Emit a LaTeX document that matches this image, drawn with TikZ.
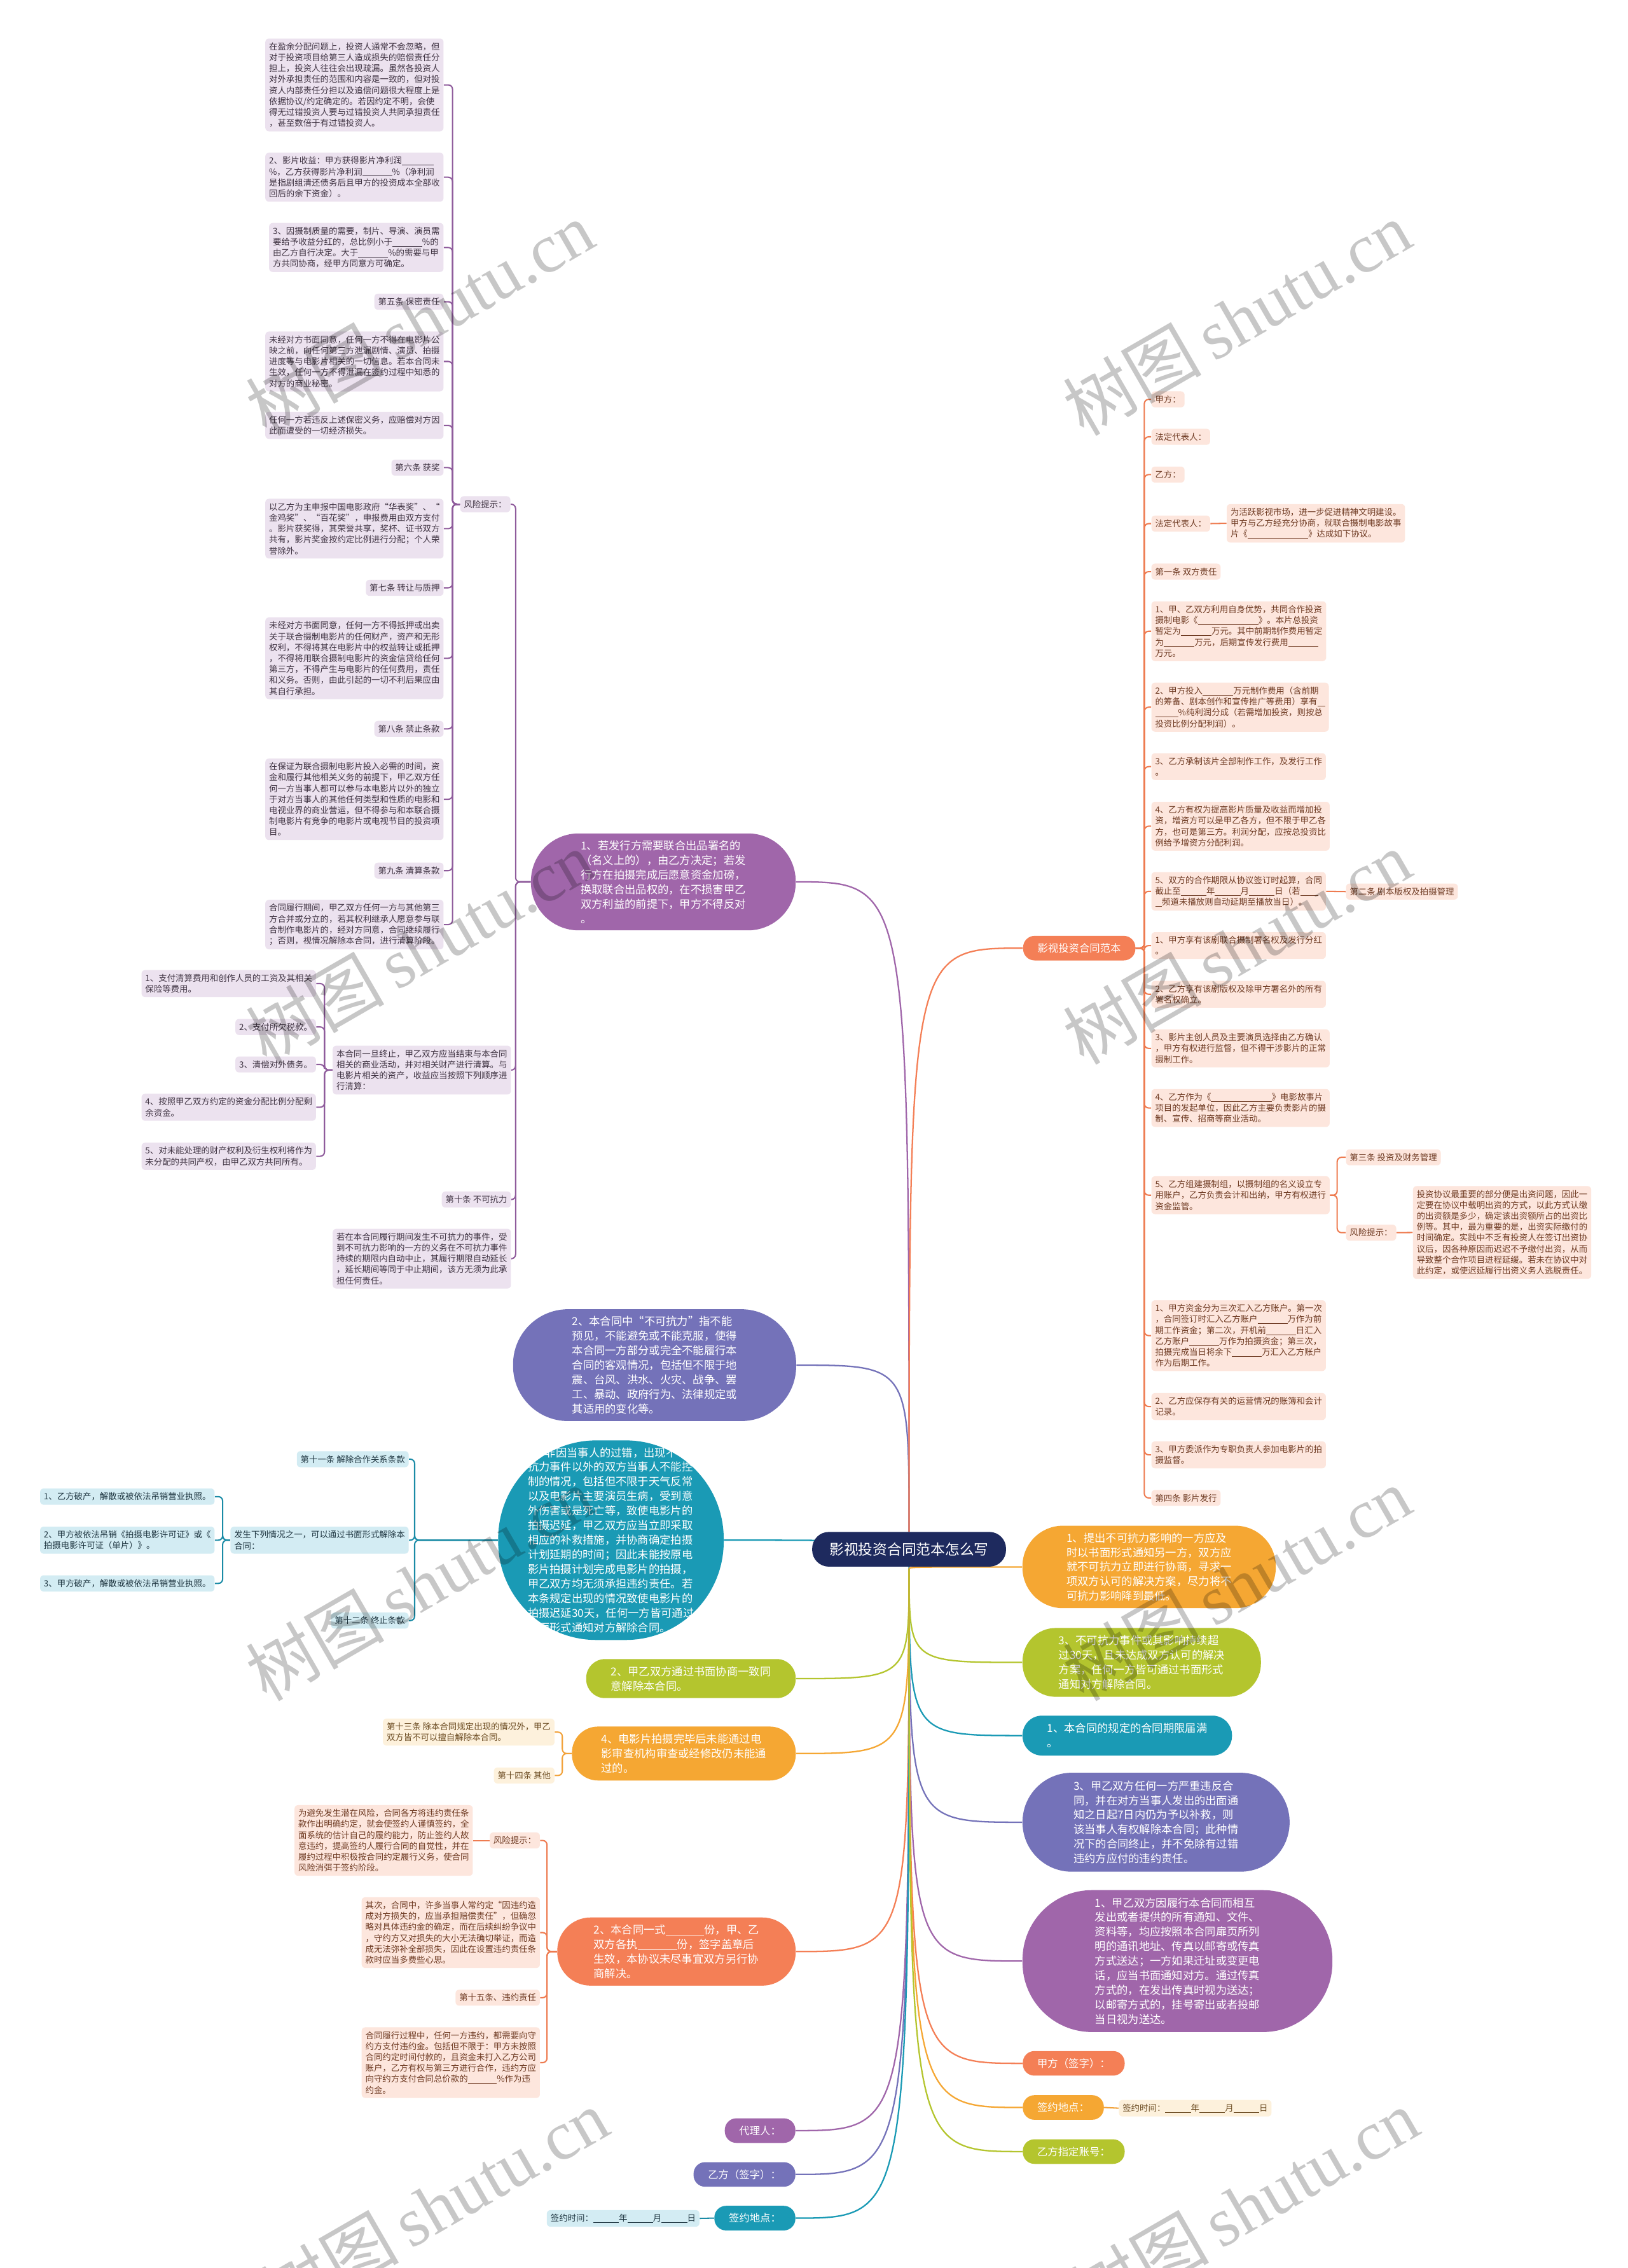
\documentclass[tikz,border=0pt]{standalone}
\usepackage{fontspec}
\setmainfont{Noto Sans CJK SC}
\newfontfamily\wmlat{Liberation Serif}
\pgfdeclarelayer{back}
\pgfdeclarelayer{lines}
\pgfsetlayers{back,lines,main}
\newcommand{\blk}[1]{\rule[-0.9pt]{#1em}{0.3pt}}
\definecolor{cpurple}{HTML}{A066AA}
\definecolor{cviolet}{HTML}{7472B9}
\definecolor{cteal}{HTML}{1A9AB5}
\definecolor{cgreen}{HTML}{B4C52E}
\definecolor{corange}{HTML}{F5A733}
\definecolor{ccoral}{HTML}{F47F56}
\definecolor{croot}{HTML}{1E2A5E}
\definecolor{pfill}{HTML}{ECE2EF}
\definecolor{tfill}{HTML}{D3ECF3}
\definecolor{cfill}{HTML}{FDE6DD}
\definecolor{ofill}{HTML}{FDF1DC}
\definecolor{ptext}{HTML}{3F3342}
\definecolor{ttext}{HTML}{1E3540}
\definecolor{ctext}{HTML}{6E3A22}
\definecolor{otext}{HTML}{6A4A20}
\definecolor{lpurple}{HTML}{8F5C9C}
\definecolor{lteal}{HTML}{1A8BA6}
\definecolor{lcoral}{HTML}{EE7B50}
\definecolor{lorange}{HTML}{F2A23A}
\begin{document}
\begin{tikzpicture}[x=1pt,y=-1pt,
 sm/.style={font=\fontsize{5.9pt}{7.56pt}\selectfont, align=left, inner xsep=2.6pt, inner ysep=2.8pt, rounded corners=2.5pt},
 pb/.style={sm, fill=pfill, text=ptext},
 tb/.style={sm, fill=tfill, text=ttext},
 cb/.style={sm, fill=cfill, text=ctext},
 ob/.style={sm, fill=ofill, text=otext},
 bignode/.style={font=\fontsize{7.6pt}{10.1pt}\selectfont, text=white, align=left, inner sep=0pt},
 lab/.style={font=\fontsize{7.2pt}{8pt}\selectfont, text=white, inner xsep=10pt, inner ysep=0pt, minimum height=17pt, rounded corners=8pt},
 br/.style={line width=1pt},
 sub/.style={line width=0.9pt, rounded corners=3pt},
 wm/.style={rotate=30, text=black, text opacity=0.22, font=\fontsize{48pt}{50pt}\selectfont}
]
\begin{pgfonlayer}{back}
\fill[white] (0,0) rectangle (1125,1568);
\end{pgfonlayer}
\path[use as bounding box] (0,0) rectangle (1125,1568);

% ---------- root ----------
\node[fill=croot, text=white, font=\fontsize{10pt}{12pt}\selectfont, minimum width=134pt, minimum height=24pt, rounded corners=11.5pt, inner sep=0pt] (root) at (628.4,1071.1) {影视投资合同范本怎么写};
\coordinate (O) at (628.4,1084.6);
\coordinate (T) at (628.4,1059);

% ---------- left level 1 ----------
\node[bignode, fill=cpurple, minimum width=183pt, minimum height=67pt, rounded corners=33pt] (L1) at (458.5,609.7) {1、若发行方需要联合出品署名的\\（名义上的），由乙方决定；若发\\行方在拍摄完成后愿意资金加磅，\\换取联合出品权的，在不损害甲乙\\双方利益的前提下，甲方不得反对\\。};
\node[bignode, fill=cviolet, minimum width=195.7pt, minimum height=77.3pt, rounded corners=38pt] (L2) at (452.5,943.8) {2、本合同中“不可抗力”指不能\\预见，不能避免或不能克服，使得\\本合同一方部分或完全不能履行本\\合同的客观情况，包括但不限于地\\震、台风、洪水、火灾、战争、罢\\工、暴动、政府行为、法律规定或\\其适用的变化等。};
\node[bignode, fill=cteal, minimum width=155.9pt, minimum height=138pt, rounded corners=68pt] (L3) at (422.3,1064.8) {4、非因当事人的过错，出现不可\\抗力事件以外的双方当事人不能控\\制的情况，包括但不限于天气反常\\以及电影片主要演员生病，受到意\\外伤害或是死亡等，致使电影片的\\拍摄迟延，甲乙双方应当立即采取\\相应的补救措施，并协商确定拍摄\\计划延期的时间；因此未能按原电\\影片拍摄计划完成电影片的拍摄，\\甲乙双方均无须承担违约责任。若\\本条规定出现的情况致使电影片的\\拍摄迟延30天，任何一方皆可通过\\书面形式通知对方解除合同。};
\node[bignode, fill=cgreen, minimum width=144.8pt, minimum height=27pt, rounded corners=13pt] (L4) at (477.6,1160.5) {2、甲乙双方通过书面协商一致同\\意解除本合同。};
\node[bignode, fill=corange, minimum width=154.7pt, minimum height=37.3pt, rounded corners=18pt] (L5) at (472.7,1212.3) {4、电影片拍摄完毕后未能通过电\\影审查机构审查或经修改仍未能通\\过的。};
\node[bignode, fill=ccoral, minimum width=164.8pt, minimum height=47.1pt, rounded corners=23pt] (L6) at (467.6,1349.2) {2、本合同一式\blk{3.5}份，甲、乙\\双方各执\blk{3.6}份，签字盖章后\\生效，本协议未尽事宜双方另行协\\商解决。};
\node[lab, fill=cpurple, anchor=east] (L7) at (550,1473) {代理人：};
\node[lab, fill=cviolet, anchor=east] (L8) at (550,1503.3) {乙方（签字）：};
\node[lab, fill=cteal, anchor=east] (L9) at (550,1533.5) {签约地点：};
\node[tb, anchor=east] (L9a) at (483.7,1533.7) {签约时间：\blk{3}年\blk{3}月\blk{3}日};

% ---------- right level 1 ----------
\node[lab, fill=ccoral, anchor=west] (R1) at (707,655.5) {影视投资合同范本};
\node[bignode, fill=corange, minimum width=175.1pt, minimum height=57pt, rounded corners=28pt] (R2) at (794.3,1083.3) {1、提出不可抗力影响的一方应及\\时以书面形式通知另一方，双方应\\就不可抗力立即进行协商，寻求一\\项双方认可的解决方案，尽力将不\\可抗力影响降到最低。};
\node[bignode, fill=cgreen, minimum width=164.8pt, minimum height=47.6pt, rounded corners=23pt] (R3) at (789.2,1149.3) {3、不可抗力事件或其影响持续超\\过30天，且未达成双方认可的解决\\方案，任何一方皆可通过书面形式\\通知对方解除合同。};
\node[bignode, fill=cteal, minimum width=144.8pt, minimum height=27.6pt, rounded corners=13.5pt] (R4) at (779.2,1199.9) {1、本合同的规定的合同期限届满\\。};
\node[bignode, fill=cviolet, minimum width=184.6pt, minimum height=68.4pt, rounded corners=34pt] (R5) at (799.1,1259.8) {3、甲乙双方任何一方严重违反合\\同，并在对方当事人发出的出面通\\知之日起7日内仍为予以补救，则\\该当事人有权解除本合同；此种情\\况下的合同终止，并不免除有过错\\违约方应付的违约责任。};
\node[bignode, fill=cpurple, minimum width=214.2pt, minimum height=98.1pt, rounded corners=48pt] (R6) at (813.9,1355.8) {1、甲乙双方因履行本合同而相互\\发出或者提供的所有通知、文件、\\资料等，均应按照本合同扉页所列\\明的通讯地址、传真以邮寄或传真\\方式送达；一方如果迁址或变更电\\话，应当书面通知对方。通过传真\\方式的，在发出传真时视为送达；\\以邮寄方式的，挂号寄出或者投邮\\当日视为送达。};
\node[lab, fill=ccoral, anchor=west] (R7) at (706.8,1426.5) {甲方（签字）：};
\node[lab, fill=corange, anchor=west] (R8) at (706.8,1457) {签约地点：};
\node[ob, anchor=west] (R8a) at (773.2,1457.5) {签约时间：\blk{3}年\blk{3}月\blk{3}日};
\node[lab, fill=cgreen, anchor=west] (R9) at (706.8,1487.5) {乙方指定账号：};

% ---------- L1 subtree ----------
\node[pb, anchor=east] (RK1) at (353,348.6) {风险提示：};
\node[pb, anchor=east] (A1) at (306.8,58.7) {在盈余分配问题上，投资人通常不会忽略，但\\对于投资项目给第三人造成损失的赔偿责任分\\担上，投资人往往会出现疏漏。虽然各投资人\\对外承担责任的范围和内容是一致的，但对投\\资人内部责任分担以及追偿问题很大程度上是\\依据协议/约定确定的。若因约定不明，会使\\得无过错投资人要与过错投资人共同承担责任\\，甚至数倍于有过错投资人。};
\node[pb, anchor=east] (A2) at (306.8,122.5) {2、影片收益：甲方获得影片净利润\blk{3.7}\\\%，乙方获得影片净利润\blk{3.5}\%（净利润\\是指剧组清还债务后且甲方的投资成本全部收\\回后的余下资金）。};
\node[pb, anchor=east] (A3) at (306.8,171.1) {3、因摄制质量的需要，制片、导演、演员需\\要给予收益分红的，总比例小于\blk{3.5}\%的\\由乙方自行决定。大于\blk{3.5}\%的需要与甲\\方共同协商，经甲方同意方可确定。};
\node[pb, anchor=east] (A4) at (306.8,208.6) {第五条 保密责任};
\node[pb, anchor=east] (A5) at (306.8,249.9) {未经对方书面同意，任何一方不得在电影片公\\映之前，向任何第三方泄漏剧情、演员、拍摄\\进度等与电影片相关的一切信息。若本合同未\\生效，任何一方不得泄漏在签约过程中知悉的\\对方的商业秘密。};
\node[pb, anchor=east] (A6) at (306.8,294.1) {任何一方若违反上述保密义务，应赔偿对方因\\此而遭受的一切经济损失。};
\node[pb, anchor=east] (A7) at (306.8,323.3) {第六条 获奖};
\node[pb, anchor=east] (A8) at (306.8,365.5) {以乙方为主申报中国电影政府“华表奖”、“\\金鸡奖”、“百花奖”，申报费用由双方支付\\。影片获奖得，其荣誉共享，奖杯、证书双方\\共有，影片奖金按约定比例进行分配；个人荣\\誉除外。};
\node[pb, anchor=east] (A9) at (306.8,406.4) {第七条 转让与质押};
\node[pb, anchor=east] (A10) at (306.8,455.1) {未经对方书面同意，任何一方不得抵押或出卖\\关于联合摄制电影片的任何财产，资产和无形\\权利，不得将其在电影片中的权益转让或抵押\\，不得将用联合摄制电影片的资金信贷给任何\\第三方，不得产生与电影片的任何费用，责任\\和义务。否则，由此引起的一切不利后果应由\\其自行承担。};
\node[pb, anchor=east] (A11) at (306.8,503.9) {第八条 禁止条款};
\node[pb, anchor=east] (A12) at (306.8,552.6) {在保证为联合摄制电影片投入必需的时间，资\\金和履行其他相关义务的前提下，甲乙双方任\\何一方当事人都可以参与本电影片以外的独立\\于对方当事人的其他任何类型和性质的电影和\\电视业界的商业营运，但不得参与和本联合摄\\制电影片有竞争的电影片或电视节目的投资项\\目。};
\node[pb, anchor=east] (A13) at (306.8,601.9) {第九条 清算条款};
\node[pb, anchor=east] (A14) at (306.8,639.2) {合同履行期间，甲乙双方任何一方与其他第三\\方合并或分立的，若其权利继承人愿意参与联\\合制作电影片的，经对方同意，合同继续履行\\；否则，视情况解除本合同，进行清算阶段。};
\node[pb, anchor=east] (QS) at (353.4,739.8) {本合同一旦终止，甲乙双方应当结束与本合同\\相关的商业活动，并对相关财产进行清算。与\\电影片相关的资产，收益应当按照下列顺序进\\行清算：};
\node[pb, anchor=east] (Q1) at (218.6,680) {1、支付清算费用和创作人员的工资及其相关\\保险等费用。};
\node[pb, anchor=east] (Q2) at (218.6,710) {2、支付所欠税款。};
\node[pb, anchor=east] (Q3) at (218.6,735.9) {3、清偿对外债务。};
\node[pb, anchor=east] (Q4) at (218.6,765.5) {4、按照甲乙双方约定的资金分配比例分配剩\\余资金。};
\node[pb, anchor=east] (Q5) at (218.6,799.4) {5、对未能处理的财产权利及衍生权利将作为\\未分配的共同产权，由甲乙双方共同所有。};
\node[pb, anchor=east] (D10) at (353.4,829.3) {第十条 不可抗力};
\node[pb, anchor=east] (BK) at (353.4,870.2) {若在本合同履行期间发生不可抗力的事件，受\\到不可抗力影响的一方的义务在不可抗力事件\\持续的期限内自动中止，其履行期限自动延长\\，延长期间等同于中止期间，该方无须为此承\\担任何责任。};

% ---------- L3 subtree ----------
\node[tb, anchor=east] (D11) at (282.7,1008.8) {第十一条 解除合作关系条款};
\node[tb, anchor=east] (FS) at (282.7,1064.8) {发生下列情况之一，可以通过书面形式解除本\\合同：};
\node[tb, anchor=east] (D12) at (282.7,1120.4) {第十二条 终止条款};
\node[tb, anchor=east] (T1) at (148.5,1034.7) {1、乙方破产，解散或被依法吊销营业执照。};
\node[tb, anchor=east] (T2) at (148.5,1064.8) {2、甲方被依法吊销《拍摄电影许可证》或《\\拍摄电影许可证（单片）》。};
\node[tb, anchor=east] (T3) at (148.5,1094.7) {3、甲方破产，解散或被依法吊销营业执照。};

% ---------- L5 subtree ----------
\node[ob, anchor=east] (D13) at (383.5,1197.5) {第十三条 除本合同规定出现的情况外，甲乙\\双方皆不可以擅自解除本合同。};
\node[ob, anchor=east] (D14) at (383.5,1227.5) {第十四条 其他};

% ---------- L6 subtree ----------
\node[cb, anchor=east] (RK2) at (373.4,1272.4) {风险提示：};
\node[cb, anchor=east] (W1) at (327,1272.4) {为避免发生潜在风险，合同各方将违约责任条\\款作出明确约定，就会使签约人谨慎签约，全\\面系统的估计自己的履约能力，防止签约人故\\意违约，提高签约人履行合同的自觉性，并在\\履约过程中积极按合同约定履行义务，使合同\\风险消弭于签约阶段。};
\node[cb, anchor=east] (QC) at (373.4,1336.1) {其次，合同中，许多当事人常约定“因违约造\\成对方损失的，应当承担赔偿责任”，但确忽\\略对具体违约金的确定，而在后续纠纷争议中\\，守约方又对损失的大小无法确切举证，而造\\成无法弥补全部损失，因此在设置违约责任条\\款时应当多费些心思。};
\node[cb, anchor=east] (D15) at (373.4,1381.1) {第十五条、违约责任};
\node[cb, anchor=east] (HT) at (373.4,1426) {合同履行过程中，任何一方违约，都需要向守\\约方支付违约金。包括但不限于：甲方未按照\\合同约定时间付款的，且资金未打入乙方公司\\账户，乙方有权与第三方进行合作，违约方应\\向守约方支付合同总价款的\blk{3.4}\%作为违\\约金。};

% ---------- R1 subtree ----------
\node[cb, anchor=west] (B1) at (795.7,276.1) {甲方：};
\node[cb, anchor=west] (B2) at (795.7,302) {法定代表人：};
\node[cb, anchor=west] (B3) at (795.7,328.1) {乙方：};
\node[cb, anchor=west] (B4) at (795.7,362) {法定代表人：};
\node[cb, anchor=west] (B4a) at (847.8,361.8) {为活跃影视市场，进一步促进精神文明建设。\\甲方与乙方经充分协商，就联合摄制电影故事\\片《\blk{7.1}》达成如下协议。};
\node[cb, anchor=west] (B5) at (795.7,395.2) {第一条 双方责任};
\node[cb, anchor=west] (B6) at (795.7,436.4) {1、甲、乙双方利用自身优势，共同合作投资\\摄制电影《\blk{7.1}》。本片总投资\\暂定为\blk{3.6}万元。其中前期制作费用暂定\\为\blk{3.6}万元，后期宣传发行费用\blk{3.5}\\万元。};
\node[cb, anchor=west] (B7) at (795.7,488.9) {2、甲方投入\blk{3.6}万元制作费用（含前期\\的筹备、剧本创作和宣传推广等费用）享有\blk{0.9}\\\blk{2.7}\%纯利润分成（若需增加投资，则按总\\投资比例分配利润）。};
\node[cb, anchor=west] (B8) at (795.7,530) {3、乙方承制该片全部制作工作，及发行工作\\。};
\node[cb, anchor=west] (B9) at (795.7,571.2) {4、乙方有权为提高影片质量及收益而增加投\\资，增资方可以是甲乙各方，但不限于甲乙各\\方，也可是第三方。利润分配，应按总投资比\\例给予增资方分配利润。};
\node[cb, anchor=west] (B10) at (795.7,616.2) {5、双方的合作期限从协议签订时起算，合同\\截止至\blk{3}年\blk{3}月\blk{3}日（若\blk{2.1}\\\blk{0.8}频道未播放则自动延期至播放当日）。};
\node[cb, anchor=west] (B10a) at (930.2,616.4) {第二条 剧本版权及拍摄管理};
\node[cb, anchor=west] (B11) at (795.7,653.7) {1、甲方享有该剧联合摄制署名权及发行分红\\。};
\node[cb, anchor=west] (B12) at (795.7,687.4) {2、乙方享有该剧版权及除甲方署名外的所有\\署名权确立。};
\node[cb, anchor=west] (B13) at (795.7,724.8) {3、影片主创人员及主要演员选择由乙方确认\\，甲方有权进行监督，但不得干涉影片的正常\\摄制工作。};
\node[cb, anchor=west] (B14) at (795.7,766) {4、乙方作为《\blk{7.1}》电影故事片\\项目的发起单位，因此乙方主要负责影片的摄\\制、宣传、招商等商业活动。};
\node[cb, anchor=west] (B15) at (795.7,826.3) {5、乙方组建摄制组，以摄制组的名义设立专\\用账户，乙方负责会计和出纳，甲方有权进行\\资金监管。};
\node[cb, anchor=west] (B15a) at (930.2,800.1) {第三条 投资及财务管理};
\node[cb, anchor=west] (B15b) at (930.2,852.2) {风险提示：};
\node[cb, anchor=west] (B15c) at (976.5,852.1) {投资协议最重要的部分便是出资问题，因此一\\定要在协议中载明出资的方式，以此方式认缴\\的出资额是多少，确定该出资额所占的出资比\\例等。其中，最为重要的是，出资实际缴付的\\时间确定。实践中不乏有投资人在签订出资协\\议后，因各种原因而迟迟不予缴付出资，从而\\导致整个合作项目进程延缓。若未在协议中对\\此约定，或使迟延履行出资义务人逃脱责任。};
\node[cb, anchor=west] (B16) at (795.7,923.4) {1、甲方资金分为三次汇入乙方账户。第一次\\，合同签订时汇入乙方账户\blk{3.5}万作为前\\期工作资金；第二次，开机前\blk{3.5}日汇入\\乙方账户\blk{3.5}万作为拍摄资金；第三次，\\拍摄完成当日将余下\blk{3.5}万汇入乙方账户\\作为后期工作。};
\node[cb, anchor=west] (B17) at (795.7,972.4) {2、乙方应保存有关的运营情况的账簿和会计\\记录。};
\node[cb, anchor=west] (B18) at (795.7,1005.8) {3、甲方委派作为专职负责人参加电影片的拍\\摄监督。};
\node[cb, anchor=west] (B19) at (795.7,1035.6) {第四条 影片发行};

% ---------- connectors ----------
\begin{pgfonlayer}{lines}
\draw[br, cpurple] (T) .. controls (628.4,609.7) .. (L1.east);
\draw[br, cviolet] (T) .. controls (628.4,943.8) .. (L2.east);
\draw[br, cteal] (O) .. controls (628.4,1064.8) .. (L3.east);
\draw[br, cgreen] (O) .. controls (628.4,1160.5) .. (L4.east);
\draw[br, corange] (O) .. controls (628.4,1212.3) .. (L5.east);
\draw[br, ccoral] (O) .. controls (628.4,1349.2) .. (L6.east);
\draw[br, cpurple] (O) .. controls (628.4,1473) .. (L7.east);
\draw[br, cviolet] (O) .. controls (628.4,1503.3) .. (L8.east);
\draw[br, cteal] (O) .. controls (628.4,1533.5) .. (L9.east);
\draw[br, ccoral] (T) .. controls (628.4,655.5) .. (R1.west);
\draw[br, corange] (O) .. controls (628.4,1083.3) .. (R2.west);
\draw[br, cgreen] (O) .. controls (628.4,1149.3) .. (R3.west);
\draw[br, cteal] (O) .. controls (628.4,1199.9) .. (R4.west);
\draw[br, cviolet] (O) .. controls (628.4,1259.8) .. (R5.west);
\draw[br, cpurple] (O) .. controls (628.4,1355.8) .. (R6.west);
\draw[br, ccoral] (O) .. controls (628.4,1426.5) .. (R7.west);
\draw[br, corange] (O) .. controls (628.4,1457) .. (R8.west);
\draw[br, cgreen] (O) .. controls (628.4,1487.5) .. (R9.west);
\draw[sub, lteal] (L9.west) -- (L9a.east);
\draw[sub, lorange] (R8.east) -- (R8a.west);
% L1
\foreach \c in {RK1,QS,D10,BK} \draw[sub, lpurple] (L1.west) -- (356.4,609.7) |- (\c.east);
\foreach \c in {A1,A2,A3,A4,A5,A6,A7,A8,A9,A10,A11,A12,A13,A14} \draw[sub, lpurple] (RK1.west) -- (312.8,348.6) |- (\c.east);
\foreach \c in {Q1,Q2,Q3,Q4,Q5} \draw[sub, lpurple] (QS.west) -- (224.3,739.8) |- (\c.east);
% L3
\foreach \c in {D11,FS,D12} \draw[sub, lteal] (L3.west) -- (286.6,1064.8) |- (\c.east);
\foreach \c in {T1,T2,T3} \draw[sub, lteal] (FS.west) -- (153.9,1064.8) |- (\c.east);
% L5
\foreach \c in {D13,D14} \draw[sub, lorange] (L5.west) -- (388.7,1212.3) |- (\c.east);
% L6
\foreach \c in {RK2,QC,D15,HT} \draw[sub, lcoral] (L6.west) -- (378.1,1349.2) |- (\c.east);
\draw[sub, lcoral] (RK2.west) -- (W1.east);
% R1
\foreach \c in {B1,B2,B3,B4,B5,B6,B7,B8,B9,B10,B11,B12,B13,B14,B15,B16,B17,B18,B19} \draw[sub, lcoral] (R1.east) -- (791,655.5) |- (\c.west);
\draw[sub, lcoral] (B4.east) -- (B4a.west);
\draw[sub, lcoral] (B10.east) -- (B10a.west);
\foreach \c in {B15a,B15b} \draw[sub, lcoral] (B15.east) -- (924.3,826.3) |- (\c.west);
\draw[sub, lcoral] (B15b.east) -- (B15c.west);
\end{pgfonlayer}

% ---------- watermarks ----------
\foreach \wx/\wy [count=\i] in {290/220, 855/220, 290/655, 855/655, 290/1095, 855/1095, 300/1525, 860/1525}
  \node[wm] (wm\i) at (\wx,\wy) {树图\,{\wmlat shutu.cn}};
\end{tikzpicture}
\end{document}
